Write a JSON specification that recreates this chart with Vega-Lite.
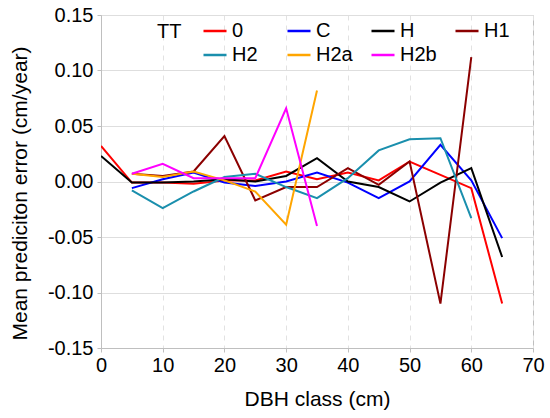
{
  "$schema": "https://vega.github.io/schema/vega-lite/v6.json",
  "autosize": "none",
  "width": 432,
  "height": 333,
  "padding": {"left": 101, "top": 15, "right": 17, "bottom": 70},
  "background": "white",
  "config": {
    "font": "Liberation Sans",
    "locale": {
      "number": {
        "decimal": ".",
        "thousands": ",",
        "grouping": [3],
        "currency": ["$", ""],
        "minus": "-"
      }
    },
    "view": {"stroke": "#bfbfbf", "strokeWidth": 1},
    "axis": {
      "labelFont": "Liberation Sans",
      "titleFont": "Liberation Sans",
      "labelFontSize": 20,
      "titleFontSize": 21,
      "titleFontWeight": "normal",
      "labelColor": "black",
      "titleColor": "black",
      "domainColor": "#bfbfbf",
      "tickColor": "#bfbfbf",
      "tickSize": 4,
      "gridColor": "#dedede"
    },
    "legend": {
      "labelFont": "Liberation Sans",
      "titleFont": "Liberation Sans"
    }
  },
  "data": {
    "values": [
      {"TT": "0", "class": 0, "err": 0.032},
      {"TT": "0", "class": 5, "err": -0.001},
      {"TT": "0", "class": 10, "err": -0.001},
      {"TT": "0", "class": 15, "err": -0.002},
      {"TT": "0", "class": 20, "err": 0.001},
      {"TT": "0", "class": 25, "err": 0.001},
      {"TT": "0", "class": 30, "err": 0.009},
      {"TT": "0", "class": 35, "err": 0.002},
      {"TT": "0", "class": 40, "err": 0.008},
      {"TT": "0", "class": 45, "err": 0.001},
      {"TT": "0", "class": 50, "err": 0.018},
      {"TT": "0", "class": 55, "err": 0.006},
      {"TT": "0", "class": 60, "err": -0.006},
      {"TT": "0", "class": 65, "err": -0.110},
      {"TT": "C", "class": 5, "err": -0.006},
      {"TT": "C", "class": 10, "err": 0.002},
      {"TT": "C", "class": 15, "err": 0.008},
      {"TT": "C", "class": 20, "err": -0.001},
      {"TT": "C", "class": 25, "err": -0.004},
      {"TT": "C", "class": 30, "err": 0.000},
      {"TT": "C", "class": 35, "err": 0.008},
      {"TT": "C", "class": 40, "err": -0.001},
      {"TT": "C", "class": 45, "err": -0.015},
      {"TT": "C", "class": 50, "err": 0.000},
      {"TT": "C", "class": 55, "err": 0.033},
      {"TT": "C", "class": 60, "err": 0.001},
      {"TT": "C", "class": 65, "err": -0.051},
      {"TT": "H", "class": 0, "err": 0.023},
      {"TT": "H", "class": 5, "err": -0.001},
      {"TT": "H", "class": 10, "err": -0.001},
      {"TT": "H", "class": 15, "err": 0.000},
      {"TT": "H", "class": 20, "err": 0.002},
      {"TT": "H", "class": 25, "err": 0.000},
      {"TT": "H", "class": 30, "err": 0.005},
      {"TT": "H", "class": 35, "err": 0.021},
      {"TT": "H", "class": 40, "err": 0.000},
      {"TT": "H", "class": 45, "err": -0.005},
      {"TT": "H", "class": 50, "err": -0.018},
      {"TT": "H", "class": 55, "err": -0.001},
      {"TT": "H", "class": 60, "err": 0.012},
      {"TT": "H", "class": 65, "err": -0.068},
      {"TT": "H1", "class": 5, "err": 0.007},
      {"TT": "H1", "class": 10, "err": 0.005},
      {"TT": "H1", "class": 15, "err": 0.009},
      {"TT": "H1", "class": 20, "err": 0.041},
      {"TT": "H1", "class": 25, "err": -0.017},
      {"TT": "H1", "class": 30, "err": -0.005},
      {"TT": "H1", "class": 35, "err": -0.005},
      {"TT": "H1", "class": 40, "err": 0.012},
      {"TT": "H1", "class": 45, "err": -0.003},
      {"TT": "H1", "class": 50, "err": 0.018},
      {"TT": "H1", "class": 55, "err": -0.110},
      {"TT": "H1", "class": 60, "err": 0.112},
      {"TT": "H2", "class": 5, "err": -0.008},
      {"TT": "H2", "class": 10, "err": -0.024},
      {"TT": "H2", "class": 15, "err": -0.009},
      {"TT": "H2", "class": 20, "err": 0.004},
      {"TT": "H2", "class": 25, "err": 0.007},
      {"TT": "H2", "class": 30, "err": -0.005},
      {"TT": "H2", "class": 35, "err": -0.015},
      {"TT": "H2", "class": 40, "err": 0.003},
      {"TT": "H2", "class": 45, "err": 0.028},
      {"TT": "H2", "class": 50, "err": 0.038},
      {"TT": "H2", "class": 55, "err": 0.039},
      {"TT": "H2", "class": 60, "err": -0.033},
      {"TT": "H2a", "class": 5, "err": 0.007},
      {"TT": "H2a", "class": 10, "err": 0.004},
      {"TT": "H2a", "class": 15, "err": 0.009},
      {"TT": "H2a", "class": 20, "err": 0.001},
      {"TT": "H2a", "class": 25, "err": -0.009},
      {"TT": "H2a", "class": 30, "err": -0.039},
      {"TT": "H2a", "class": 35, "err": 0.082},
      {"TT": "H2b", "class": 5, "err": 0.007},
      {"TT": "H2b", "class": 10, "err": 0.016},
      {"TT": "H2b", "class": 15, "err": 0.003},
      {"TT": "H2b", "class": 20, "err": 0.003},
      {"TT": "H2b", "class": 25, "err": 0.003},
      {"TT": "H2b", "class": 30, "err": 0.066},
      {"TT": "H2b", "class": 35, "err": -0.040}
    ]
  },
  "mark": {"type": "line", "strokeWidth": 2, "clip": true},
  "encoding": {
    "x": {
      "field": "class",
      "type": "quantitative",
      "scale": {"domain": [0, 70], "nice": false, "zero": false},
      "axis": {
        "title": "DBH class (cm)",
        "values": [0, 10, 20, 30, 40, 50, 60, 70],
        "format": "d",
        "labelPadding": 3,
        "titleX": 216,
        "titleY": 51,
        "titleBaseline": "middle",
        "gridDash": [5, 5],
        "gridColor": "#e2e2e2",
        "labelFlush": false
      }
    },
    "y": {
      "field": "err",
      "type": "quantitative",
      "scale": {"domain": [-0.15, 0.15], "nice": false, "zero": false},
      "axis": {
        "title": "Mean prediciton error (cm/year)",
        "values": [-0.15, -0.1, -0.05, 0, 0.05, 0.1, 0.15],
        "format": ".2f",
        "labelPadding": 4,
        "titleX": -81,
        "titleY": 178,
        "titleAngle": -90,
        "titleBaseline": "middle",
        "titleAlign": "center",
        "labelFlush": false
      }
    },
    "color": {
      "field": "TT",
      "type": "nominal",
      "scale": {
        "domain": ["0", "C", "H", "H1", "H2", "H2a", "H2b"],
        "range": ["#ff0000", "#0000ff", "#000000", "#8b0000", "#1a8fad", "#ffa500", "#ff00ff"]
      },
      "legend": {
        "orient": "none",
        "legendX": 56,
        "legendY": 3,
        "direction": "horizontal",
        "columns": 4,
        "gridAlign": "all",
        "columnPadding": 13,
        "rowPadding": 1,
        "padding": 0,
        "title": "TT",
        "titleOrient": "left",
        "titleAngle": 0,
        "titleAnchor": "start",
        "titleBaseline": "line-top",
        "titleLineHeight": 28,
        "titleFontSize": 20,
        "titleFontWeight": "normal",
        "titleColor": "black",
        "titlePadding": 20,
        "labelFontSize": 20,
        "labelColor": "black",
        "labelOffset": 4,
        "symbolType": "stroke",
        "symbolSize": 530,
        "symbolStrokeWidth": 2.5
      }
    }
  }
}
